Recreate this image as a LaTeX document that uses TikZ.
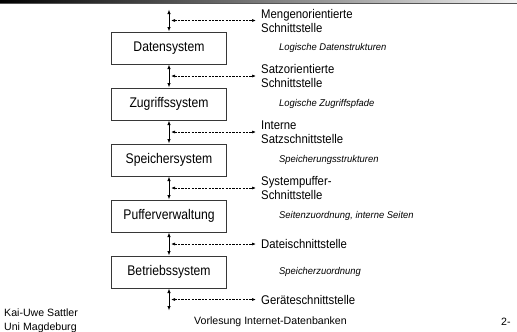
\documentclass[tikz,border=0pt]{standalone}
\usepackage{fontspec}
\setmainfont{Liberation Sans}
\newfontfamily\boxfont[FakeStretch=0.87]{Liberation Sans}
\newfontfamily\ifacefont[FakeStretch=0.9]{Liberation Sans}
\newfontfamily\layerfont[FakeStretch=0.96]{Liberation Sans}
\usetikzlibrary{positioning,calc,arrows.meta}
\definecolor{mygray}{RGB}{55,55,55}
\definecolor{mybar}{RGB}{85,85,85}

\begin{document}
\begin{tikzpicture}[x=1pt,y=1pt,
  sysbox/.style={draw=mygray,line width=1pt,minimum width=115pt,minimum height=32pt,
    inner sep=0pt,font=\boxfont\fontsize{14}{16}\selectfont},
  iface/.style={anchor=west,inner xsep=5pt,inner ysep=0pt,align=left,
    font=\ifacefont\fontsize{12.6}{14}\selectfont},
  layer/.style={anchor=west,inner sep=0pt,font=\layerfont\itshape\fontsize{9.8}{12}\selectfont},
  foot/.style={inner sep=0pt,font=\fontsize{10.6}{12}\selectfont},
  updown/.style={{Latex[length=4.5pt,width=3.5pt]}-{Latex[length=4.5pt,width=3.5pt]},line width=0.8pt},
  dasharr/.style={{Latex[length=4pt,width=3pt]}-{Latex[length=4pt,width=3pt]},line width=0.7pt,
    dash pattern=on 2.2pt off 1.2pt}]

  \useasboundingbox (0,0) rectangle (517,-332);

  % title bar
  \shade[left color=black,right color=gray!10] (0,0) rectangle (517,-3);
  \draw[mybar,line width=1pt] (0,-3.5) -- (517,-3.5);

  % the five layers
  \node[sysbox] (dat) at (169,-48) {Datensystem};
  \node[sysbox,below=23pt of dat] (zug) {Zugriffssystem};
  \node[sysbox,below=23pt of zug] (spe) {Speichersystem};
  \node[sysbox,below=23pt of spe] (puf) {Pufferverwaltung};
  \node[sysbox,below=23pt of puf] (bet) {Betriebssystem};

  \coordinate[above=22pt of dat.north] (top);
  \coordinate[below=22pt of bet.south] (bottom);

  % vertical arrows
  \draw[updown] (top) -- (dat.north);
  \draw[updown] (dat.south) -- (zug.north);
  \draw[updown] (zug.south) -- (spe.north);
  \draw[updown] (spe.south) -- (puf.north);
  \draw[updown] (puf.south) -- (bet.north);
  \draw[updown] (bet.south) -- (bottom);

  \coordinate (m0) at ($(top)!0.5!(dat.north)$);
  \coordinate (m1) at ($(dat.south)!0.5!(zug.north)$);
  \coordinate (m2) at ($(zug.south)!0.5!(spe.north)$);
  \coordinate (m3) at ($(spe.south)!0.5!(puf.north)$);
  \coordinate (m4) at ($(puf.south)!0.5!(bet.north)$);
  \coordinate (m5) at ($(bet.south)!0.5!(bottom)$);

  % interfaces
  \node[iface] (s0) at ($(m0)+(87,0)$) {Mengenorientierte\\Schnittstelle};
  \node[iface] (s1) at ($(m1)+(87,0)$) {Satzorientierte\\Schnittstelle};
  \node[iface] (s2) at ($(m2)+(87,0)$) {Interne\\Satzschnittstelle};
  \node[iface] (s3) at ($(m3)+(87,0)$) {Systempuffer-\\Schnittstelle};
  \node[iface] (s4) at ($(m4)+(87,0)$) {Dateischnittstelle};
  \node[iface] (s5) at ($(m5)+(87,0)$) {Geräteschnittstelle};

  \foreach \i in {0,...,5}
    \draw[dasharr] ([xshift=2pt]m\i) -- (s\i.west);

  % objects of each layer
  \node[layer] (o1) at ($(dat)+(110,0)$) {Logische Datenstrukturen};
  \node[layer] (o2) at ($(zug)+(110,0)$) {Logische Zugriffspfade};
  \node[layer] (o3) at ($(spe)+(110,0)$) {Speicherungsstrukturen};
  \node[layer] (o4) at ($(puf)+(110,0)$) {Seitenzuordnung, interne Seiten};
  \node[layer] (o5) at ($(bet)+(110,0)$) {Speicherzuordnung};

  % footer
  \node[foot,anchor=west] (auth) at (4,-313) {Kai-Uwe Sattler};
  \node[foot,anchor=west] (uni) at (4,-327.5) {Uni Magdeburg};
  \node[foot] (lect) at (270.5,-322) {Vorlesung Internet-Datenbanken};
  \node[foot,anchor=west] (page) at (501,-322) {2-};

\end{tikzpicture}
\end{document}
